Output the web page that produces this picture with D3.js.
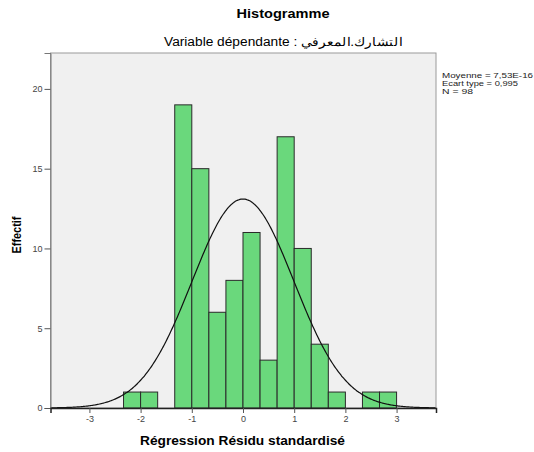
<!DOCTYPE html>
<html>
<head>
<meta charset="utf-8">
<script src="https://cdn.jsdelivr.net/npm/d3@7"></script>
<style>
  body { margin: 0; background: #fff; }
  text { font-family: "Liberation Sans", Arial, sans-serif; }
</style>
</head>
<body>
<script>
// histogram data
var binEdges = [-7/3, -2, -5/3, -4/3, -1, -2/3, -1/3, 0, 1/3, 2/3, 1, 4/3, 5/3, 2, 7/3, 8/3, 3];
var counts   = [1, 1, 0, 19, 15, 6, 8, 11, 3, 17, 10, 4, 1, 0, 1, 1];
var xTicks = [-3, -2, -1, 0, 1, 2, 3];
var yTicks = [0, 5, 10, 15, 20];
var stats = { mean: 7.53e-16, sd: 0.995, n: 98 };
var legendLines = ["Moyenne = 7,53E-16", "Ecart type = 0,995", "N = 98"];
var legendWidths = [91, 76, 31];

var width = 534, height = 452;
var svg = d3.select("body").append("svg")
    .attr("width", width)
    .attr("height", height);

var x = d3.scaleLinear().domain([-3.76, 3.77]).range([50.5, 436]);
var y = d3.scaleLinear().domain([0, 22.25]).range([408, 53]);

// plot background + frame
svg.append("rect")
    .attr("x", x.range()[0]).attr("y", y.range()[1])
    .attr("width", x.range()[1] - x.range()[0])
    .attr("height", y.range()[0] - y.range()[1])
    .attr("fill", "#f0f0f0")
    .attr("stroke", "#9a9a9a")
    .attr("stroke-width", 1);

svg.append("clipPath").attr("id", "clip")
    .append("rect")
    .attr("x", x.range()[0]).attr("y", y.range()[1])
    .attr("width", x.range()[1] - x.range()[0])
    .attr("height", y.range()[0] - y.range()[1]);

var bins = counts.map(function (c, i) {
    return { x0: binEdges[i], x1: binEdges[i + 1], count: c };
}).filter(function (d) { return d.count > 0; });

svg.append("g")
    .selectAll("rect")
    .data(bins)
    .join("rect")
    .attr("x", d => x(d.x0))
    .attr("y", d => y(d.count))
    .attr("width", d => x(d.x1) - x(d.x0))
    .attr("height", d => y(0) - y(d.count))
    .attr("fill", "#6ad87c")
    .attr("stroke", "#2a2a2a")
    .attr("stroke-width", 1);

// normal curve scaled to the histogram (N * bin width * pdf)
var bw = binEdges[1] - binEdges[0];
function normal(v) {
    var z = (v - stats.mean) / stats.sd;
    return stats.n * bw * Math.exp(-0.5 * z * z) / (stats.sd * Math.sqrt(2 * Math.PI));
}
var curveX = d3.range(x.domain()[0], x.domain()[1] + 0.01, 0.02);
var line = d3.line()
    .x(d => x(d))
    .y(d => y(normal(d)))
    .curve(d3.curveBasis);

svg.append("path")
    .datum(curveX)
    .attr("d", line)
    .attr("fill", "none")
    .attr("stroke", "#111")
    .attr("stroke-width", 1.2)
    .attr("clip-path", "url(#clip)");

// axes
var yAxis = svg.append("g")
    .attr("transform", "translate(" + x.range()[0] + ",0)")
    .call(d3.axisLeft(y).tickValues(yTicks).tickSize(6).tickPadding(2).tickFormat(d => String(d)));
yAxis.select(".domain").attr("stroke", "#777");
yAxis.selectAll(".tick line").attr("stroke", "#555");
yAxis.selectAll(".tick text").attr("fill", "#444").style("font-size", "9px");

var xAxis = svg.append("g")
    .attr("transform", "translate(0," + y(0) + ")")
    .call(d3.axisBottom(x).tickValues(xTicks).tickSize(5).tickPadding(3).tickFormat(d => String(d)));
xAxis.select(".domain").attr("stroke", "#222").attr("stroke-width", 1.5);
xAxis.selectAll(".tick line").attr("stroke", "#555");
xAxis.selectAll(".tick text").attr("fill", "#444").style("font-size", "9px");

// titles
svg.append("text")
    .attr("x", 283).attr("y", 18)
    .attr("text-anchor", "middle")
    .style("font-size", "12px").style("font-weight", "bold")
    .attr("textLength", 93).attr("lengthAdjust", "spacingAndGlyphs")
    .text("Histogramme");

svg.append("text")
    .attr("x", 283).attr("y", 46)
    .attr("text-anchor", "middle")
    .style("font-size", "12px")
    .attr("textLength", 238).attr("lengthAdjust", "spacingAndGlyphs")
    .text("Variable dépendante : التشارك.المعرفي");

svg.append("text")
    .attr("x", 242.5).attr("y", 445)
    .attr("text-anchor", "middle")
    .style("font-size", "12px").style("font-weight", "bold")
    .attr("textLength", 205).attr("lengthAdjust", "spacingAndGlyphs")
    .text("Régression Résidu standardisé");

svg.append("text")
    .attr("transform", "translate(21,235) rotate(-90)")
    .attr("text-anchor", "middle")
    .style("font-size", "12px").style("font-weight", "bold")
    .attr("textLength", 37).attr("lengthAdjust", "spacingAndGlyphs")
    .text("Effectif");

// stats legend
svg.append("g")
    .selectAll("text")
    .data(legendLines)
    .join("text")
    .attr("x", 442)
    .attr("y", (d, i) => 78 + i * 8)
    .style("font-size", "8px")
    .attr("fill", "#222")
    .attr("textLength", (d, i) => legendWidths[i])
    .attr("lengthAdjust", "spacingAndGlyphs")
    .text(d => d);
</script>
</body>
</html>
